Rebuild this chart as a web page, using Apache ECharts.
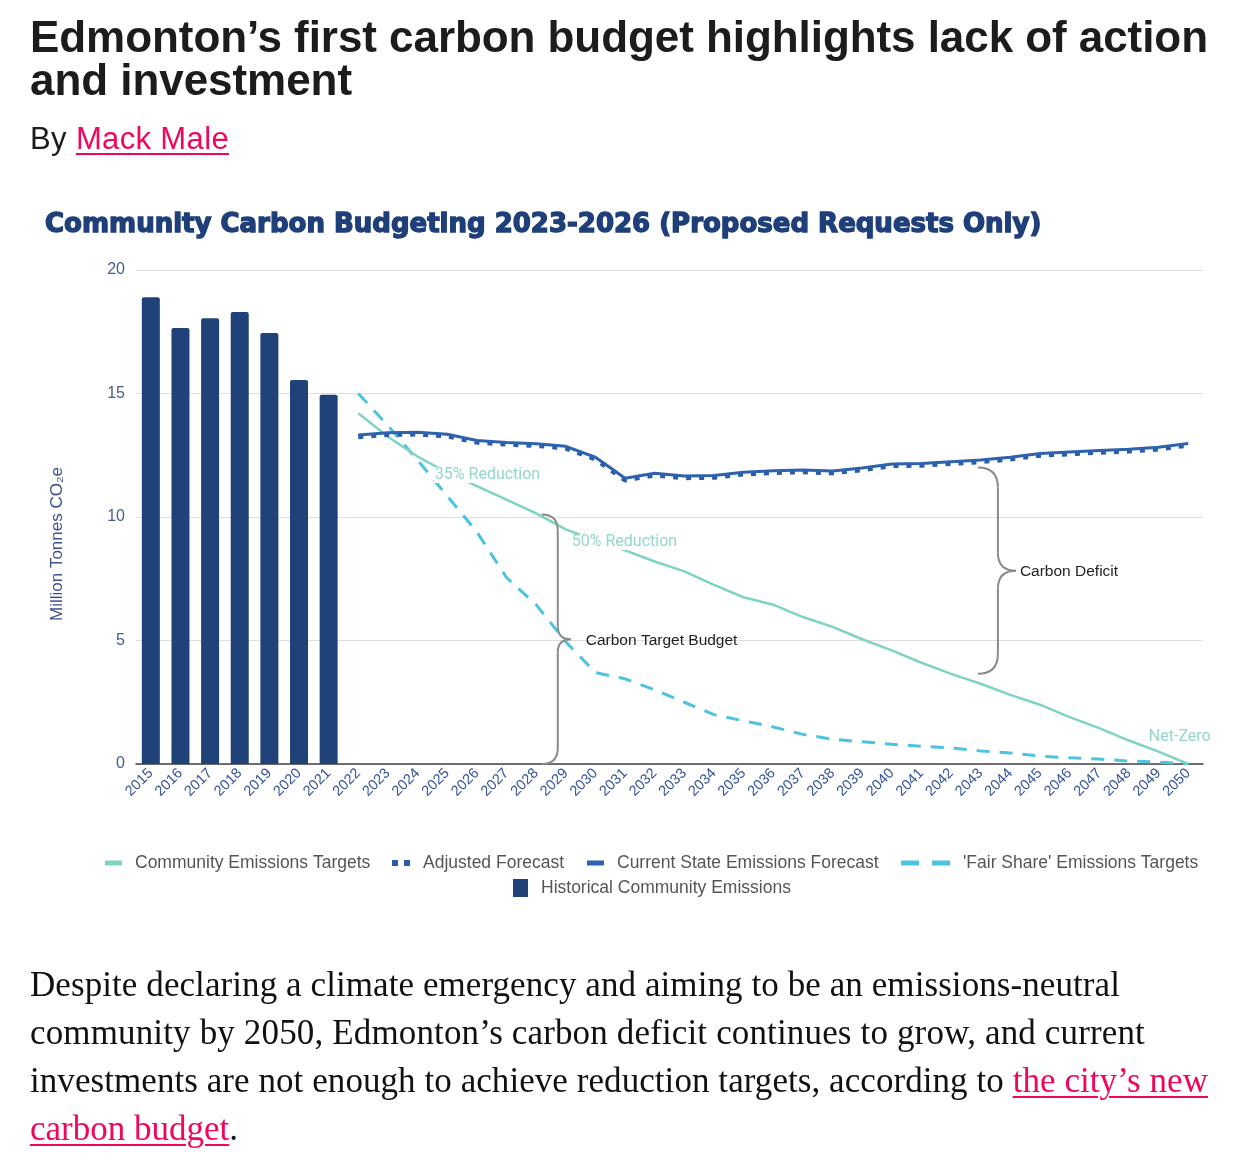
<!DOCTYPE html>
<html><head><meta charset="utf-8">
<script src="https://cdn.jsdelivr.net/npm/echarts@6/dist/echarts.min.js"></script>
<style>
html,body{margin:0;padding:0;background:#fff;width:1240px;height:1172px;overflow:hidden}
#chart{position:absolute;left:0;top:0;width:1240px;height:1172px}
.ln{position:absolute;left:30px;white-space:nowrap;margin:0;padding:0}
.h{font-family:'Liberation Sans',Arial,sans-serif;font-weight:bold;font-size:44px;line-height:44px;color:#1c1c1c}
.by{font-family:'Liberation Sans',Arial,sans-serif;font-size:31px;line-height:31px;color:#1c1c1c}
.p{font-family:'Liberation Serif','Times New Roman',serif;font-size:35px;line-height:35px;color:#111}
a{color:#f2055c;text-decoration:underline;text-decoration-thickness:2px;text-underline-offset:4px}
</style></head>
<body>
<div id="chart"></div>
<div class="ln h" style="top:15px" data-w="1178">Edmonton’s first carbon budget highlights lack of action</div>
<div class="ln h" style="top:58px" data-w="322">and investment</div>
<div class="ln by" style="top:123px" data-w="199">By <a>Mack Male</a></div>
<div class="ln p" style="top:967px" data-w="1090">Despite declaring a climate emergency and aiming to be an emissions-neutral</div>
<div class="ln p" style="top:1015px" data-w="1115">community by 2050, Edmonton’s carbon deficit continues to grow, and current</div>
<div class="ln p" style="top:1063px" data-w="1178">investments are not enough to achieve reduction targets, according to <a>the city’s new</a></div>
<div class="ln p" style="top:1111px" data-w="208"><a>carbon budget</a>.</div>
<script>
// ---- data ----
const years = ['2015','2016','2017','2018','2019','2020','2021','2022','2023','2024','2025','2026','2027','2028','2029','2030','2031','2032','2033','2034','2035','2036','2037','2038','2039','2040','2041','2042','2043','2044','2045','2046','2047','2048','2049','2050'];
const yTicks = [0, 5, 10, 15, 20];
// Historical Community Emissions (2015-2021)
const histValues = [18.9, 17.65, 18.05, 18.3, 17.45, 15.55, 14.95];
// Community Emissions Targets (2022-2050)
const targetValues = [14.2, 13.25, 12.45, 11.8, 11.25, 10.7, 10.15, 9.5, 9.05, 8.65, 8.2, 7.8, 7.25, 6.75, 6.45, 5.95, 5.55, 5.05, 4.6, 4.1, 3.65, 3.25, 2.8, 2.4, 1.9, 1.45, 0.95, 0.5, 0];
// 'Fair Share' Emissions Targets (2022-2050)
const fairShareValues = [15.0, 13.7, 12.3, 10.85, 9.4, 7.55, 6.45, 4.95, 3.7, 3.45, 3.0, 2.5, 2.0, 1.75, 1.5, 1.2, 1.0, 0.9, 0.8, 0.72, 0.65, 0.53, 0.45, 0.32, 0.25, 0.2, 0.12, 0.08, 0];
// Current State Emissions Forecast (2022-2050)
const currentValues = [13.32, 13.41, 13.43, 13.35, 13.1, 13.02, 12.97, 12.86, 12.42, 11.57, 11.77, 11.66, 11.68, 11.81, 11.87, 11.9, 11.86, 11.98, 12.15, 12.17, 12.24, 12.31, 12.42, 12.57, 12.63, 12.69, 12.74, 12.82, 12.98];
// Adjusted Forecast (2022-2050)
const adjustedValues = [13.25, 13.34, 13.36, 13.28, 13.03, 12.95, 12.9, 12.79, 12.35, 11.5, 11.7, 11.59, 11.61, 11.74, 11.8, 11.83, 11.79, 11.91, 12.08, 12.1, 12.17, 12.24, 12.35, 12.5, 12.56, 12.62, 12.67, 12.75, 12.91];
const seriesNames = ['Community Emissions Targets', 'Adjusted Forecast', 'Current State Emissions Forecast', "'Fair Share' Emissions Targets", 'Historical Community Emissions'];
const noteLabels = ['35% Reduction', '50% Reduction', 'Net-Zero'];
const braceLabels = ['Carbon Target Budget', 'Carbon Deficit'];

// ---- page text fitting ----
document.querySelectorAll('.ln').forEach(el => {
  const w = el.getBoundingClientRect().width;
  const n = el.textContent.length;
  el.style.letterSpacing = ((+el.dataset.w - w) / n) + 'px';
});

// ---- chart ----
const N = years.length;
const pad = n => new Array(n).fill(null);
const histData = histValues.concat(pad(N - histValues.length));
const lineData = v => pad(N - v.length).concat(v);

const C = {
  teal: '#7fd3c3', fair: '#4cc3e0', cur: '#2c62ae', adj: '#2a5ca7', bar: '#1f4279',
  axisLbl: '#34539a', yLbl: '#4a5b90', legendTxt: '#555', title: '#1f3f7a'
};

const legendSpec = [
  {name: seriesNames[0], left: 105, top: 854, w: 17, h: 5, icon: 'rect'},
  {name: seriesNames[1], left: 392, top: 854, w: 18, h: 6, icon: 'path://M0,0h6v6h-6z M12,0h6v6h-6z'},
  {name: seriesNames[2], left: 587, top: 854, w: 17, h: 5, icon: 'rect'},
  {name: seriesNames[3], left: 901, top: 854, w: 49, h: 5, icon: 'path://M0,0h18v5h-18z M31,0h18v5h-18z'},
  {name: seriesNames[4], left: 513, top: 879, w: 15, h: 18, icon: 'rect'}
];

const chart = echarts.init(document.getElementById('chart'), null, {renderer: 'canvas'});
chart.setOption({
  animation: false,
  title: {
    text: 'Community Carbon Budgeting 2023-2026 (Proposed Requests Only)',
    left: 45, top: 212, padding: 0,
    textStyle: {fontFamily: 'DejaVu Sans', fontWeight: 'bold', fontSize: 26, color: C.title,
      textBorderColor: C.title, textBorderWidth: 1.4}
  },
  grid: {left: 136, right: 37, top: 270, bottom: 408, containLabel: false},
  legend: legendSpec.map(l => ({
    left: l.left, top: l.top, itemWidth: l.w, itemHeight: l.h, padding: 0,
    data: [{name: l.name, icon: l.icon}],
    textStyle: {fontFamily: 'Liberation Sans', fontSize: 17.5, color: C.legendTxt, padding: [0, 0, 0, 8]},
    selectedMode: false
  })),
  xAxis: {
    type: 'category', data: years, boundaryGap: true,
    axisLine: {lineStyle: {color: '#444', width: 1.5}},
    axisTick: {show: false},
    axisLabel: {interval: 0, rotate: 45, fontFamily: 'Liberation Sans', fontSize: 14.5, color: C.axisLbl, margin: 7}
  },
  yAxis: {
    type: 'value', min: yTicks[0], max: yTicks[yTicks.length - 1], interval: 5,
    axisLine: {show: false}, axisTick: {show: false},
    axisLabel: {fontFamily: 'Liberation Sans', fontSize: 16, color: C.yLbl, margin: 11},
    splitLine: {lineStyle: {color: '#dedede', width: 1.2}}
  },
  series: [
    {name: seriesNames[4], type: 'bar', data: histData, barWidth: 18,
      itemStyle: {color: C.bar, borderRadius: [2, 2, 0, 0]}, z: 2},
    {name: seriesNames[3], type: 'line', data: lineData(fairShareValues), symbol: 'none',
      lineStyle: {color: C.fair, width: 3, type: [13, 10]}, itemStyle: {color: C.fair}, z: 3},
    {name: seriesNames[0], type: 'line', data: lineData(targetValues), symbol: 'none',
      lineStyle: {color: C.teal, width: 2.5}, itemStyle: {color: C.teal}, z: 4},
    {name: seriesNames[1], type: 'line', data: lineData(adjustedValues), symbol: 'none',
      lineStyle: {color: C.adj, width: 5, type: [5, 8]}, itemStyle: {color: C.adj}, z: 5},
    {name: seriesNames[2], type: 'line', data: lineData(currentValues), symbol: 'none',
      lineStyle: {color: C.cur, width: 3}, itemStyle: {color: C.cur}, z: 6}
  ]
});

// ---- annotations positioned through the axes ----
const x0 = chart.convertToPixel({xAxisIndex: 0}, years[0]);
const x1 = chart.convertToPixel({xAxisIndex: 0}, years[1]);
const px = i => x0 + i * (x1 - x0);
const py = v => chart.convertToPixel({yAxisIndex: 0}, v);

const notes = [
  {text: noteLabels[0], i: 9.55, v: 11.7},
  {text: noteLabels[1], i: 14.17, v: 8.99},
  {text: noteLabels[2], i: 33.64, v: 1.09}
];
const braces = [
  {text: braceLabels[0], i: 13.73, top: 10.1, bottom: 0, r: 16, tip: 13, gap: 15},
  {text: braceLabels[1], i: 28.58, top: 12.0, bottom: 3.65, r: 20, tip: 18, gap: 4}
];

const graphics = [];
notes.forEach(n => {
  graphics.push({type: 'text', x: px(n.i), y: py(n.v), z: 50,
    style: {text: n.text, fill: '#92d8cb', font: '16px Roboto', align: 'left', verticalAlign: 'middle',
      backgroundColor: '#fff', padding: [0, 1]}});
});
const bstyle = {stroke: '#8a8a8a', lineWidth: 2, fill: null};
braces.forEach(b => {
  const x = px(b.i), yt = py(b.top), yb = py(b.bottom), ym = (yt + yb) / 2, r = b.r, t = b.tip;
  const curve = (xa, ya, cx, cy, xb, yb2) => ({type: 'bezierCurve', z: 40,
    shape: {x1: xa, y1: ya, cpx1: cx, cpy1: cy, x2: xb, y2: yb2}, style: bstyle});
  const seg = (ya, yb2) => ({type: 'line', z: 40, shape: {x1: x, y1: ya, x2: x, y2: yb2}, style: bstyle});
  graphics.push(curve(x - r, yt, x, yt, x, yt + r));
  graphics.push(seg(yt + r, ym - t));
  graphics.push(curve(x, ym - t, x, ym, x + t, ym));
  graphics.push(curve(x + t, ym, x, ym, x, ym + t));
  graphics.push(seg(ym + t, yb - r));
  graphics.push(curve(x, yb - r, x, yb, x - r, yb));
  graphics.push({type: 'text', x: x + t + b.gap, y: ym + 1, z: 50,
    style: {text: b.text, fill: '#222', font: '15.5px "Liberation Sans"', align: 'left', verticalAlign: 'middle'}});
});
graphics.push({type: 'text', x: 57, y: 544, rotation: Math.PI / 2, z: 50,
  style: {text: 'Million Tonnes CO₂e', fill: '#3d4f8e', font: '17px "Liberation Sans"', align: 'center', verticalAlign: 'middle'}});
chart.setOption({graphic: graphics});
</script>
</body></html>
